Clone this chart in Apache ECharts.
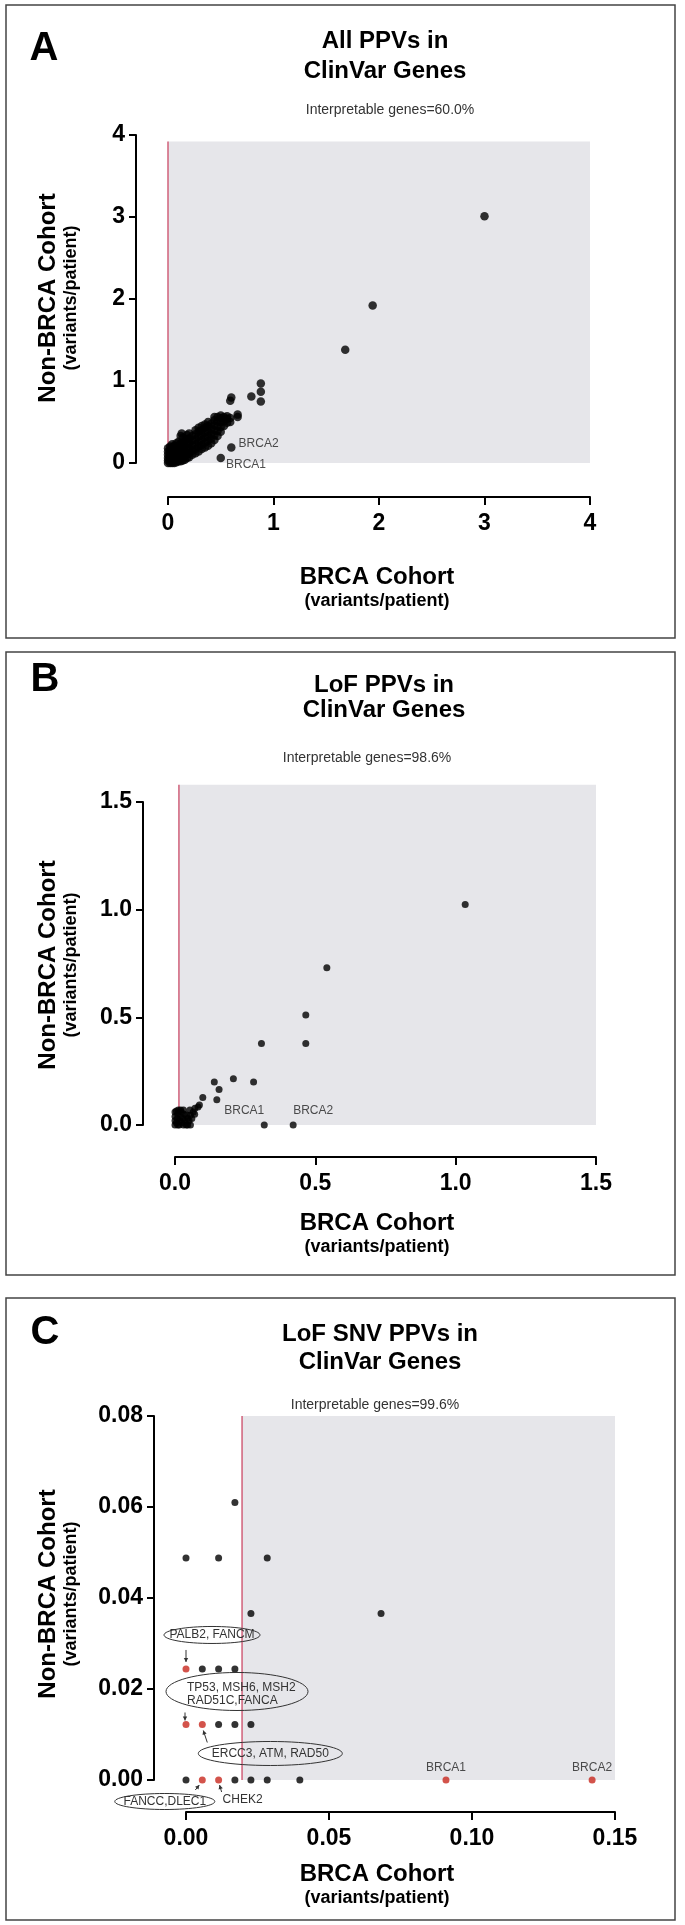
<!DOCTYPE html>
<html><head><meta charset="utf-8">
<script src="https://cdn.jsdelivr.net/npm/echarts@6/dist/echarts.min.js"></script>
<style>html,body{margin:0;padding:0;background:#fff}#c{width:685px;height:1925px}</style>
</head><body><div id="c"></div>
<script>
// ===== DATA =====
const panelLetters = ['A', 'B', 'C'];
const panelTitles = ['All PPVs in\nClinVar Genes', 'LoF PPVs in\nClinVar Genes', 'LoF SNV PPVs in\nClinVar Genes'];
const interpretableText = ['Interpretable genes=60.0%', 'Interpretable genes=98.6%', 'Interpretable genes=99.6%'];
const xTitle = 'BRCA Cohort';
const yTitle = 'Non-BRCA Cohort';
const unitTitle = '(variants/patient)';

// axis ranges / tick steps per panel
const xMax = [4, 1.5, 0.15];
const yMax = [4, 1.5, 0.08];
const xStep = [1, 0.5, 0.05];
const yStep = [1, 0.5, 0.02];
const xDecimals = [0, 1, 2];
const yDecimals = [0, 1, 2];

// red threshold line (x) and top of the grey "interpretable" region (y)
const thresholdX = [0.0, 0.014, 0.0196];
const greyTopY = [3.92, 1.58, 0.08];

// Panel A: all PPVs
const allPPVcluster = [
  [0.00,0.00],[0.00,0.03],[0.00,0.06],[0.00,0.10],[0.00,0.14],[0.00,0.18],
  [0.02,0.00],[0.02,0.04],[0.02,0.08],[0.02,0.12],[0.02,0.16],[0.02,0.20],
  [0.04,0.00],[0.04,0.03],[0.04,0.07],[0.04,0.11],[0.04,0.15],[0.04,0.19],[0.04,0.23],
  [0.06,0.00],[0.06,0.05],[0.06,0.09],[0.06,0.13],[0.06,0.17],[0.06,0.21],
  [0.08,0.01],[0.08,0.05],[0.08,0.09],[0.08,0.14],[0.08,0.19],[0.08,0.24],
  [0.10,0.02],[0.10,0.06],[0.10,0.11],[0.10,0.16],[0.10,0.21],[0.10,0.26],
  [0.12,0.02],[0.12,0.07],[0.12,0.12],[0.12,0.18],[0.12,0.24],[0.12,0.33],[0.13,0.36],
  [0.14,0.03],[0.14,0.08],[0.14,0.13],[0.14,0.19],[0.14,0.25],[0.14,0.31],
  [0.16,0.04],[0.16,0.09],[0.16,0.15],[0.16,0.21],[0.16,0.27],
  [0.18,0.06],[0.18,0.11],[0.18,0.17],[0.18,0.23],[0.18,0.29],[0.18,0.34],
  [0.20,0.07],[0.20,0.12],[0.20,0.18],[0.20,0.24],[0.20,0.30],[0.20,0.36],
  [0.23,0.10],[0.23,0.15],[0.23,0.21],[0.23,0.27],[0.23,0.33],
  [0.26,0.12],[0.26,0.17],[0.26,0.23],[0.26,0.29],[0.26,0.35],[0.26,0.40],
  [0.29,0.14],[0.29,0.20],[0.29,0.26],[0.29,0.32],[0.29,0.38],[0.29,0.43],
  [0.32,0.17],[0.32,0.22],[0.32,0.28],[0.32,0.34],[0.32,0.40],[0.32,0.45],
  [0.35,0.19],[0.35,0.25],[0.35,0.31],[0.35,0.37],[0.35,0.43],[0.35,0.47],
  [0.38,0.21],[0.38,0.27],[0.38,0.33],[0.38,0.39],[0.38,0.45],[0.38,0.50],
  [0.41,0.24],[0.41,0.30],[0.41,0.36],[0.41,0.42],[0.41,0.48],
  [0.44,0.28],[0.44,0.34],[0.44,0.40],[0.44,0.46],[0.44,0.52],[0.44,0.56],
  [0.47,0.33],[0.47,0.39],[0.47,0.45],[0.47,0.51],[0.47,0.56],
  [0.50,0.38],[0.50,0.44],[0.50,0.50],[0.50,0.55],[0.50,0.58],
  [0.53,0.45],[0.53,0.51],[0.53,0.56],
  [0.56,0.49],[0.56,0.54],[0.56,0.57],
  [0.59,0.50],[0.59,0.55]
];
const allPPVhigh = [
  [3.00,3.01],[1.94,1.92],[1.68,1.38],[0.88,0.97],[0.88,0.87],[0.88,0.75],
  [0.79,0.81],[0.60,0.80],[0.59,0.76],[0.66,0.59],[0.66,0.56]
];
const allPPVbrca = [{name:'BRCA2', value:[0.60,0.19]}, {name:'BRCA1', value:[0.50,0.06]}];

// Panel B: LoF PPVs
const lofCluster = [
  [0.000,0.000],[0.000,0.020],[0.000,0.040],[0.000,0.060],[0.005,0.010],[0.008,0.030],
  [0.010,0.050],[0.012,0.070],[0.015,0.000],[0.018,0.020],[0.020,0.040],[0.022,0.060],
  [0.025,0.010],[0.028,0.030],[0.030,0.070],[0.033,0.050],[0.036,0.020],[0.040,0.000],
  [0.045,0.030],[0.050,0.020],[0.055,0.045],[0.060,0.030],[0.065,0.060],[0.070,0.050],
  [0.030,0.000],[0.010,0.000],[0.045,0.000],[0.055,0.000],[0.020,0.070],[0.005,0.065]
];
const lofHigh = [
  [1.034,1.024],[0.541,0.730],[0.466,0.511],[0.466,0.378],[0.308,0.378],[0.208,0.215],
  [0.280,0.200],[0.140,0.200],[0.157,0.165],[0.149,0.117],[0.099,0.128],[0.087,0.093],
  [0.071,0.078],[0.053,0.070],[0.042,0.046],[0.082,0.084]
];
const lofBrca = [{name:'BRCA1', value:[0.318,0]}, {name:'BRCA2', value:[0.421,0]}];

// Panel C: LoF SNV PPVs
const snvBlack = [
  [0.0000,0],[0.0171,0],[0.0227,0],[0.0284,0],[0.0398,0],
  [0.0114,0.0122],[0.0171,0.0122],[0.0227,0.0122],
  [0.0057,0.0244],[0.0114,0.0244],[0.0171,0.0244],
  [0.0227,0.0366],[0.0682,0.0366],
  [0.0000,0.0488],[0.0114,0.0488],[0.0284,0.0488],
  [0.0171,0.0610]
];
const snvRed = [
  {name:'', value:[0.0057,0]},{name:'', value:[0.0114,0]},
  {name:'BRCA1', value:[0.0909,0]},{name:'BRCA2', value:[0.1420,0]},
  {name:'', value:[0.0000,0.0122]},{name:'', value:[0.0057,0.0122]},
  {name:'', value:[0.0000,0.0244]}
];
// gene call-outs in panel C (text + the point they refer to)
const snvCallouts = [
  {text:'PALB2, FANCM', at:[0.0000,0.0244]},
  {text:'TP53, MSH6, MSH2\nRAD51C,FANCA', at:[0.0000,0.0122]},
  {text:'ERCC3, ATM, RAD50', at:[0.0057,0.0122]},
  {text:'FANCC,DLEC1', at:[0.0057,0]},
  {text:'CHEK2', at:[0.0114,0]}
];

// ===== CHART =====
const FONT = "'Liberation Sans', Arial, Helvetica, sans-serif";
const chart = echarts.init(document.getElementById('c'), null, {renderer:'canvas', width:685, height:1925});

const grids = [
  {left:168, top:135, width:422, height:328},
  {left:175, top:802, width:421, height:323},
  {left:186, top:1416, width:429, height:364}
];
const axisOff = [[34,32],[32,32],[32,32]]; // [x offset, y offset]

function xAxisFor(i){
  return {gridIndex:i, type:'value', min:0, max:xMax[i], interval:xStep[i], position:'bottom', offset:axisOff[i][0],
    axisLine:{show:true, onZero:false, lineStyle:{color:'#000', width:2}},
    axisTick:{show:true, length:8, lineStyle:{color:'#000', width:2}},
    axisLabel:{margin:15, color:'#000', fontFamily:FONT, fontWeight:'bold', fontSize:23,
      formatter:v => Number(v).toFixed(xDecimals[i])},
    splitLine:{show:false}};
}
function yAxisFor(i){
  return {gridIndex:i, type:'value', min:0, max:yMax[i], interval:yStep[i], position:'left', offset:axisOff[i][1],
    axisLine:{show:true, onZero:false, lineStyle:{color:'#000', width:2}},
    axisTick:{show:true, length:7, lineStyle:{color:'#000', width:2}},
    axisLabel:{margin:11, color:'#000', fontFamily:FONT, fontWeight:'bold', fontSize:23,
      formatter:v => Number(v).toFixed(yDecimals[i])},
    splitLine:{show:false}};
}
const lbl = {fontFamily:FONT, fontSize:12, color:'#222'};

const option = {
  backgroundColor:'#fff',
  animation:false,
  grid: grids,
  xAxis: [0,1,2].map(xAxisFor),
  yAxis: [0,1,2].map(yAxisFor),
  series: [
    {type:'scatter', xAxisIndex:0, yAxisIndex:0, z:3, clip:false, silent:true, symbolSize:8.5,
      itemStyle:{color:'#000'}, data: allPPVcluster.concat(allPPVhigh)},
    {type:'scatter', xAxisIndex:0, yAxisIndex:0, z:3, clip:false, silent:true, symbolSize:8.5,
      itemStyle:{color:'#000'}, data: allPPVbrca.map((d, k) => ({name:d.name, value:d.value,
        label:{show:true, formatter:'{b}', position:'right', distance:3, offset: k === 0 ? [0,-4] : [-2,7], ...lbl}}))},
    {type:'scatter', xAxisIndex:1, yAxisIndex:1, z:3, clip:false, silent:true, symbolSize:7,
      itemStyle:{color:'#000'}, data: lofCluster.concat(lofHigh)},
    {type:'scatter', xAxisIndex:1, yAxisIndex:1, z:3, clip:false, silent:true, symbolSize:7,
      itemStyle:{color:'#000'}, data: lofBrca.map((d, k) => ({name:d.name, value:d.value,
        label:{show:true, formatter:'{b}', position:'top', distance:5, align: k === 0 ? 'right' : 'left', ...lbl}}))},
    {type:'scatter', xAxisIndex:2, yAxisIndex:2, z:3, clip:false, silent:true, symbolSize:7,
      itemStyle:{color:'#000'}, data: snvBlack},
    {type:'scatter', xAxisIndex:2, yAxisIndex:2, z:3, clip:false, silent:true, symbolSize:7,
      itemStyle:{color:'#c8281e'}, data: snvRed.map(d => ({name:d.name, value:d.value,
        label:{show: d.name !== '', formatter:'{b}', position:'top', distance:3, ...lbl}}))}
  ]
};
chart.setOption(option);

// ===== decorations computed through the chart's own scales =====
const px = (i, v) => chart.convertToPixel({gridIndex:i}, v);
function text(x, y, str, font, extra){
  return Object.assign({type:'text', x:x, y:y, z:10, silent:true,
    style:{text:str, font:font, fill:'#000', textAlign:'center', textVerticalAlign:'middle', align:'center', verticalAlign:'middle'}}, extra || {});
}
const g = [];
const borders = [[6,5,669,633],[6,652,669,623],[6,1298,669,622]];
borders.forEach(b => g.push({type:'rect', z:0, silent:true, shape:{x:b[0], y:b[1], width:b[2], height:b[3]},
  style:{fill:'none', stroke:'#444', lineWidth:1.5}}));

for (let i = 0; i < 3; i++) {
  const p0 = px(i, [thresholdX[i], 0]);
  const p1 = px(i, [xMax[i], greyTopY[i]]);
  g.push({type:'rect', z:0, silent:true, shape:{x:p0[0], y:p1[1], width:p1[0]-p0[0], height:p0[1]-p1[1]}, style:{fill:'#e6e6ea'}});
  g.push({type:'line', z:1, silent:true, shape:{x1:p0[0], y1:p0[1], x2:p0[0], y2:p1[1]}, style:{stroke:'#d0607a', lineWidth:1.5}});
}

const letterPos = [[44,49],[45,680],[45,1333]];
const titlePos = [[385,56,30],[384,698,25],[380,1348,28]];
const subPos = [[390,110],[367,758],[375,1405]];
const xTitlePos = [[377,577],[377,1223],[377,1874]];
const yTitleY = [298, 965, 1594];
for (let i = 0; i < 3; i++) {
  g.push(text(letterPos[i][0], letterPos[i][1], panelLetters[i], 'bold 40px ' + FONT));
  const t = text(titlePos[i][0], titlePos[i][1], panelTitles[i], 'bold 24px ' + FONT);
  t.style.lineHeight = titlePos[i][2];
  g.push(t);
  const s = text(subPos[i][0], subPos[i][1], interpretableText[i], '14px ' + FONT);
  s.style.fill = '#333';
  g.push(s);
  g.push(text(xTitlePos[i][0], xTitlePos[i][1], xTitle, 'bold 24px ' + FONT));
  g.push(text(xTitlePos[i][0], xTitlePos[i][1] + 24, unitTitle, 'bold 18px ' + FONT));
  g.push(text(48, yTitleY[i], yTitle, 'bold 24px ' + FONT, {rotation:Math.PI/2}));
  g.push(text(71, yTitleY[i], unitTitle, 'bold 18px ' + FONT, {rotation:Math.PI/2}));
}

// call-out layout (pixel offsets from the referenced point)
const calloutLayout = [
  {ell:[26,-34,48,8.5], txt:[26,-34,'center'], arrow:[0,-19,0,-7]},
  {ell:[51,-33,71,19], txt:[1,-30.5,'left'], arrow:[-1,-12,-1,-4]},
  {ell:[68,29,72,12], txt:[68,29,'center'], arrow:[5,18,1,6]},
  {ell:[-37.5,21.5,50,8], txt:[-37.5,21.5,'center'], arrow:[-7,10,-3,5]},
  {ell:null, txt:[4,20,'left'], arrow:[3,12,1,5]}
];
function arrowHead(x1,y1,x2,y2){
  const a = Math.atan2(y2-y1, x2-x1), L = 4, W = 2.2;
  const bx = x2 - L*Math.cos(a), by = y2 - L*Math.sin(a);
  return [[x2,y2],[bx - W*Math.sin(a), by + W*Math.cos(a)],[bx + W*Math.sin(a), by - W*Math.cos(a)]];
}
snvCallouts.forEach((c, k) => {
  const p = px(2, c.at);
  const L = calloutLayout[k];
  if (L.ell) g.push({type:'ellipse', z:4, silent:true, shape:{cx:p[0]+L.ell[0], cy:p[1]+L.ell[1], rx:L.ell[2], ry:L.ell[3]},
    style:{fill:'none', stroke:'#333', lineWidth:1}});
  const t = text(p[0]+L.txt[0], p[1]+L.txt[1], c.text, '12px ' + FONT);
  t.style.textAlign = L.txt[2]; t.style.align = L.txt[2]; t.style.fill = '#333'; t.style.lineHeight = 13;
  g.push(t);
  const a = L.arrow;
  const x1 = p[0]+a[0], y1 = p[1]+a[1], x2 = p[0]+a[2], y2 = p[1]+a[3];
  g.push({type:'line', z:4, silent:true, shape:{x1:x1, y1:y1, x2:x2, y2:y2}, style:{stroke:'#333', lineWidth:1}});
  g.push({type:'polygon', z:4, silent:true, shape:{points:arrowHead(x1,y1,x2,y2)}, style:{fill:'#333'}});
});

chart.setOption({graphic: g});
</script>
</body></html>
